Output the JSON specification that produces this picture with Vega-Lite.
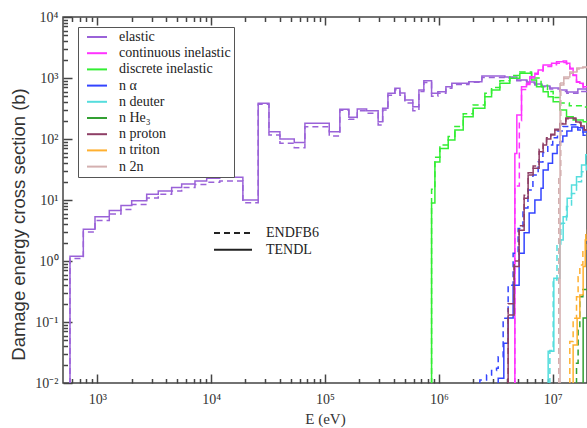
{
"$schema": "https://vega.github.io/schema/vega-lite/v6.json",
"width": 524, "height": 366,
"autosize": {"type": "none"},
"padding": {"left": 63, "top": 17, "right": 0, "bottom": 45},
"background": "white",
"config": {"view": {"stroke": "#444", "strokeWidth": 1.5}, "font": "Liberation Serif, Times New Roman, serif"},
"datasets": {
"curves": [
{"r":"elastic","lib":"TENDL","i":0,"E":576,"s":0.001},{"r":"elastic","lib":"TENDL","i":1,"E":576,"s":1.2},{"r":"elastic","lib":"TENDL","i":2,"E":754,"s":3.3},{"r":"elastic","lib":"TENDL","i":3,"E":955,"s":5.3},{"r":"elastic","lib":"TENDL","i":4,"E":1275,"s":6.7},{"r":"elastic","lib":"TENDL","i":5,"E":1615,"s":8.1},{"r":"elastic","lib":"TENDL","i":6,"E":2005,"s":9.7},{"r":"elastic","lib":"TENDL","i":7,"E":2716,"s":12.4},{"r":"elastic","lib":"TENDL","i":8,"E":3434,"s":14.1},{"r":"elastic","lib":"TENDL","i":9,"E":4500,"s":16.1},{"r":"elastic","lib":"TENDL","i":10,"E":5510,"s":18.3},{"r":"elastic","lib":"TENDL","i":11,"E":7210,"s":20.5},{"r":"elastic","lib":"TENDL","i":12,"E":9140,"s":22.7},{"r":"elastic","lib":"TENDL","i":13,"E":11900,"s":23.5},{"r":"elastic","lib":"TENDL","i":14,"E":19000,"s":10},{"r":"elastic","lib":"TENDL","i":15,"E":25900,"s":385},{"r":"elastic","lib":"TENDL","i":16,"E":32200,"s":132},{"r":"elastic","lib":"TENDL","i":17,"E":40200,"s":100},{"r":"elastic","lib":"TENDL","i":18,"E":53700,"s":88},{"r":"elastic","lib":"TENDL","i":19,"E":66600,"s":181},{"r":"elastic","lib":"TENDL","i":20,"E":109000,"s":132},{"r":"elastic","lib":"TENDL","i":21,"E":135000,"s":307},{"r":"elastic","lib":"TENDL","i":22,"E":162000,"s":227},{"r":"elastic","lib":"TENDL","i":23,"E":192000,"s":310},{"r":"elastic","lib":"TENDL","i":24,"E":232000,"s":291},{"r":"elastic","lib":"TENDL","i":25,"E":293000,"s":192},{"r":"elastic","lib":"TENDL","i":26,"E":321000,"s":319},{"r":"elastic","lib":"TENDL","i":27,"E":357000,"s":561},{"r":"elastic","lib":"TENDL","i":28,"E":411000,"s":678},{"r":"elastic","lib":"TENDL","i":29,"E":455000,"s":568},{"r":"elastic","lib":"TENDL","i":30,"E":503000,"s":436},{"r":"elastic","lib":"TENDL","i":31,"E":591000,"s":339},{"r":"elastic","lib":"TENDL","i":32,"E":668000,"s":636},{"r":"elastic","lib":"TENDL","i":33,"E":738000,"s":903},{"r":"elastic","lib":"TENDL","i":34,"E":863000,"s":561},{"r":"elastic","lib":"TENDL","i":35,"E":980000,"s":596},{"r":"elastic","lib":"TENDL","i":36,"E":1153000,"s":720},{"r":"elastic","lib":"TENDL","i":37,"E":1300000,"s":819},{"r":"elastic","lib":"TENDL","i":38,"E":1835000,"s":869},{"r":"elastic","lib":"TENDL","i":39,"E":2388000,"s":1079},{"r":"elastic","lib":"TENDL","i":40,"E":3800000,"s":1038},{"r":"elastic","lib":"TENDL","i":41,"E":4840000,"s":927},{"r":"elastic","lib":"TENDL","i":42,"E":5930000,"s":859},{"r":"elastic","lib":"TENDL","i":43,"E":6970000,"s":797},{"r":"elastic","lib":"TENDL","i":44,"E":8020000,"s":739},{"r":"elastic","lib":"TENDL","i":45,"E":9440000,"s":686},{"r":"elastic","lib":"TENDL","i":46,"E":11560000,"s":636},{"r":"elastic","lib":"TENDL","i":47,"E":13310000,"s":589},{"r":"elastic","lib":"TENDL","i":48,"E":16620000,"s":660},{"r":"elastic","lib":"TENDL","i":49,"E":21000000,"s":660},
{"r":"elastic","lib":"ENDFB6","i":0,"E":576,"s":0.001},{"r":"elastic","lib":"ENDFB6","i":1,"E":576,"s":1.1},{"r":"elastic","lib":"ENDFB6","i":2,"E":754,"s":3.0},{"r":"elastic","lib":"ENDFB6","i":3,"E":955,"s":4.6},{"r":"elastic","lib":"ENDFB6","i":4,"E":1275,"s":5.9},{"r":"elastic","lib":"ENDFB6","i":5,"E":1615,"s":7.0},{"r":"elastic","lib":"ENDFB6","i":6,"E":2005,"s":8.4},{"r":"elastic","lib":"ENDFB6","i":7,"E":2716,"s":10.8},{"r":"elastic","lib":"ENDFB6","i":8,"E":3434,"s":12.4},{"r":"elastic","lib":"ENDFB6","i":9,"E":4500,"s":14.0},{"r":"elastic","lib":"ENDFB6","i":10,"E":5510,"s":16.0},{"r":"elastic","lib":"ENDFB6","i":11,"E":7210,"s":18.0},{"r":"elastic","lib":"ENDFB6","i":12,"E":9140,"s":19.5},{"r":"elastic","lib":"ENDFB6","i":13,"E":11900,"s":20.5},{"r":"elastic","lib":"ENDFB6","i":14,"E":19000,"s":9},{"r":"elastic","lib":"ENDFB6","i":15,"E":25900,"s":370},{"r":"elastic","lib":"ENDFB6","i":16,"E":32200,"s":116},{"r":"elastic","lib":"ENDFB6","i":17,"E":40200,"s":85},{"r":"elastic","lib":"ENDFB6","i":18,"E":53700,"s":72},{"r":"elastic","lib":"ENDFB6","i":19,"E":66600,"s":159},{"r":"elastic","lib":"ENDFB6","i":20,"E":109000,"s":112},{"r":"elastic","lib":"ENDFB6","i":21,"E":135000,"s":295},{"r":"elastic","lib":"ENDFB6","i":22,"E":162000,"s":210},{"r":"elastic","lib":"ENDFB6","i":23,"E":192000,"s":290},{"r":"elastic","lib":"ENDFB6","i":24,"E":232000,"s":265},{"r":"elastic","lib":"ENDFB6","i":25,"E":293000,"s":170},{"r":"elastic","lib":"ENDFB6","i":26,"E":321000,"s":300},{"r":"elastic","lib":"ENDFB6","i":27,"E":357000,"s":520},{"r":"elastic","lib":"ENDFB6","i":28,"E":411000,"s":640},{"r":"elastic","lib":"ENDFB6","i":29,"E":455000,"s":520},{"r":"elastic","lib":"ENDFB6","i":30,"E":503000,"s":390},{"r":"elastic","lib":"ENDFB6","i":31,"E":591000,"s":290},{"r":"elastic","lib":"ENDFB6","i":32,"E":668000,"s":600},{"r":"elastic","lib":"ENDFB6","i":33,"E":738000,"s":840},{"r":"elastic","lib":"ENDFB6","i":34,"E":863000,"s":500},{"r":"elastic","lib":"ENDFB6","i":35,"E":980000,"s":560},{"r":"elastic","lib":"ENDFB6","i":36,"E":1153000,"s":680},{"r":"elastic","lib":"ENDFB6","i":37,"E":1300000,"s":780},{"r":"elastic","lib":"ENDFB6","i":38,"E":1835000,"s":850},{"r":"elastic","lib":"ENDFB6","i":39,"E":2388000,"s":1020},{"r":"elastic","lib":"ENDFB6","i":40,"E":3800000,"s":1000},{"r":"elastic","lib":"ENDFB6","i":41,"E":4840000,"s":900},{"r":"elastic","lib":"ENDFB6","i":42,"E":5930000,"s":830},{"r":"elastic","lib":"ENDFB6","i":43,"E":6970000,"s":770},{"r":"elastic","lib":"ENDFB6","i":44,"E":8020000,"s":720},{"r":"elastic","lib":"ENDFB6","i":45,"E":9440000,"s":660},{"r":"elastic","lib":"ENDFB6","i":46,"E":11560000,"s":600},{"r":"elastic","lib":"ENDFB6","i":47,"E":13310000,"s":560},{"r":"elastic","lib":"ENDFB6","i":48,"E":16620000,"s":600},{"r":"elastic","lib":"ENDFB6","i":49,"E":21000000,"s":600},
{"r":"discrete inelastic","lib":"TENDL","i":0,"E":863000,"s":0.001},{"r":"discrete inelastic","lib":"TENDL","i":1,"E":863000,"s":8.9},{"r":"discrete inelastic","lib":"TENDL","i":2,"E":923000,"s":42},{"r":"discrete inelastic","lib":"TENDL","i":3,"E":1021000,"s":70},{"r":"discrete inelastic","lib":"TENDL","i":4,"E":1208000,"s":96},{"r":"discrete inelastic","lib":"TENDL","i":5,"E":1383000,"s":141},{"r":"discrete inelastic","lib":"TENDL","i":6,"E":1636000,"s":232},{"r":"discrete inelastic","lib":"TENDL","i":7,"E":2000000,"s":319},{"r":"discrete inelastic","lib":"TENDL","i":8,"E":2535000,"s":494},{"r":"discrete inelastic","lib":"TENDL","i":9,"E":2904000,"s":636},{"r":"discrete inelastic","lib":"TENDL","i":10,"E":3434000,"s":819},{"r":"discrete inelastic","lib":"TENDL","i":11,"E":4200000,"s":988},{"r":"discrete inelastic","lib":"TENDL","i":12,"E":5140000,"s":1194},{"r":"discrete inelastic","lib":"TENDL","i":13,"E":6520000,"s":927},{"r":"discrete inelastic","lib":"TENDL","i":14,"E":7210000,"s":720},{"r":"discrete inelastic","lib":"TENDL","i":15,"E":8240000,"s":596},{"r":"discrete inelastic","lib":"TENDL","i":16,"E":9120000,"s":494},{"r":"discrete inelastic","lib":"TENDL","i":17,"E":10090000,"s":408},{"r":"discrete inelastic","lib":"TENDL","i":18,"E":11560000,"s":299},{"r":"discrete inelastic","lib":"TENDL","i":19,"E":13220000,"s":232},{"r":"discrete inelastic","lib":"TENDL","i":20,"E":15110000,"s":205},{"r":"discrete inelastic","lib":"TENDL","i":21,"E":18500000,"s":192},{"r":"discrete inelastic","lib":"TENDL","i":22,"E":21000000,"s":192},
{"r":"discrete inelastic","lib":"ENDFB6","i":0,"E":863000,"s":0.001},{"r":"discrete inelastic","lib":"ENDFB6","i":1,"E":863000,"s":15},{"r":"discrete inelastic","lib":"ENDFB6","i":2,"E":923000,"s":50},{"r":"discrete inelastic","lib":"ENDFB6","i":3,"E":1021000,"s":80},{"r":"discrete inelastic","lib":"ENDFB6","i":4,"E":1208000,"s":110},{"r":"discrete inelastic","lib":"ENDFB6","i":5,"E":1383000,"s":160},{"r":"discrete inelastic","lib":"ENDFB6","i":6,"E":1636000,"s":260},{"r":"discrete inelastic","lib":"ENDFB6","i":7,"E":2000000,"s":360},{"r":"discrete inelastic","lib":"ENDFB6","i":8,"E":2535000,"s":560},{"r":"discrete inelastic","lib":"ENDFB6","i":9,"E":2904000,"s":700},{"r":"discrete inelastic","lib":"ENDFB6","i":10,"E":3434000,"s":900},{"r":"discrete inelastic","lib":"ENDFB6","i":11,"E":4200000,"s":1100},{"r":"discrete inelastic","lib":"ENDFB6","i":12,"E":5140000,"s":1250},{"r":"discrete inelastic","lib":"ENDFB6","i":13,"E":6520000,"s":1000},{"r":"discrete inelastic","lib":"ENDFB6","i":14,"E":7900000,"s":760},{"r":"discrete inelastic","lib":"ENDFB6","i":15,"E":9000000,"s":600},{"r":"discrete inelastic","lib":"ENDFB6","i":16,"E":10090000,"s":480},{"r":"discrete inelastic","lib":"ENDFB6","i":17,"E":11560000,"s":390},{"r":"discrete inelastic","lib":"ENDFB6","i":18,"E":14000000,"s":350},{"r":"discrete inelastic","lib":"ENDFB6","i":19,"E":18500000,"s":335},{"r":"discrete inelastic","lib":"ENDFB6","i":20,"E":21000000,"s":335},
{"r":"continuous inelastic","lib":"TENDL","i":0,"E":4650000,"s":0.001},{"r":"continuous inelastic","lib":"TENDL","i":1,"E":4650000,"s":58},{"r":"continuous inelastic","lib":"TENDL","i":2,"E":4840000,"s":247},{"r":"continuous inelastic","lib":"TENDL","i":3,"E":5320000,"s":720},{"r":"continuous inelastic","lib":"TENDL","i":4,"E":5890000,"s":819},{"r":"continuous inelastic","lib":"TENDL","i":5,"E":6300000,"s":1050},{"r":"continuous inelastic","lib":"TENDL","i":6,"E":6970000,"s":1194},{"r":"continuous inelastic","lib":"TENDL","i":7,"E":7450000,"s":1352},{"r":"continuous inelastic","lib":"TENDL","i":8,"E":8240000,"s":1634},{"r":"continuous inelastic","lib":"TENDL","i":9,"E":9770000,"s":1742},{"r":"continuous inelastic","lib":"TENDL","i":10,"E":10800000,"s":1850},{"r":"continuous inelastic","lib":"TENDL","i":11,"E":12350000,"s":1900},{"r":"continuous inelastic","lib":"TENDL","i":12,"E":13220000,"s":1742},{"r":"continuous inelastic","lib":"TENDL","i":13,"E":14130000,"s":1442},{"r":"continuous inelastic","lib":"TENDL","i":14,"E":15110000,"s":1120},{"r":"continuous inelastic","lib":"TENDL","i":15,"E":16180000,"s":869},{"r":"continuous inelastic","lib":"TENDL","i":16,"E":17300000,"s":819},{"r":"continuous inelastic","lib":"TENDL","i":17,"E":18500000,"s":720},{"r":"continuous inelastic","lib":"TENDL","i":18,"E":21000000,"s":720},
{"r":"continuous inelastic","lib":"ENDFB6","i":0,"E":4650000,"s":0.001},{"r":"continuous inelastic","lib":"ENDFB6","i":1,"E":4650000,"s":17},{"r":"continuous inelastic","lib":"ENDFB6","i":2,"E":5090000,"s":200},{"r":"continuous inelastic","lib":"ENDFB6","i":3,"E":5320000,"s":650},{"r":"continuous inelastic","lib":"ENDFB6","i":4,"E":5890000,"s":780},{"r":"continuous inelastic","lib":"ENDFB6","i":5,"E":6300000,"s":1000},{"r":"continuous inelastic","lib":"ENDFB6","i":6,"E":6970000,"s":1150},{"r":"continuous inelastic","lib":"ENDFB6","i":7,"E":7450000,"s":1300},{"r":"continuous inelastic","lib":"ENDFB6","i":8,"E":8240000,"s":1550},{"r":"continuous inelastic","lib":"ENDFB6","i":9,"E":9770000,"s":1650},{"r":"continuous inelastic","lib":"ENDFB6","i":10,"E":10800000,"s":1750},{"r":"continuous inelastic","lib":"ENDFB6","i":11,"E":12350000,"s":1800},{"r":"continuous inelastic","lib":"ENDFB6","i":12,"E":13220000,"s":1700},{"r":"continuous inelastic","lib":"ENDFB6","i":13,"E":14130000,"s":1400},{"r":"continuous inelastic","lib":"ENDFB6","i":14,"E":15110000,"s":1100},{"r":"continuous inelastic","lib":"ENDFB6","i":15,"E":16180000,"s":850},{"r":"continuous inelastic","lib":"ENDFB6","i":16,"E":17300000,"s":800},{"r":"continuous inelastic","lib":"ENDFB6","i":17,"E":18500000,"s":700},{"r":"continuous inelastic","lib":"ENDFB6","i":18,"E":21000000,"s":700},
{"r":"n α","lib":"TENDL","i":0,"E":3320000,"s":0.001},{"r":"n α","lib":"TENDL","i":1,"E":3320000,"s":0.012},{"r":"n α","lib":"TENDL","i":2,"E":3720000,"s":0.045},{"r":"n α","lib":"TENDL","i":3,"E":4060000,"s":0.116},{"r":"n α","lib":"TENDL","i":4,"E":4490000,"s":0.40},{"r":"n α","lib":"TENDL","i":5,"E":5070000,"s":1.34},{"r":"n α","lib":"TENDL","i":6,"E":5610000,"s":2.9},{"r":"n α","lib":"TENDL","i":7,"E":6210000,"s":6.1},{"r":"n α","lib":"TENDL","i":8,"E":6970000,"s":10},{"r":"n α","lib":"TENDL","i":9,"E":7890000,"s":15.6},{"r":"n α","lib":"TENDL","i":10,"E":8240000,"s":31},{"r":"n α","lib":"TENDL","i":11,"E":9120000,"s":40},{"r":"n α","lib":"TENDL","i":12,"E":9960000,"s":58},{"r":"n α","lib":"TENDL","i":13,"E":10930000,"s":80},{"r":"n α","lib":"TENDL","i":14,"E":11560000,"s":90},{"r":"n α","lib":"TENDL","i":15,"E":12270000,"s":112},{"r":"n α","lib":"TENDL","i":16,"E":13310000,"s":135},{"r":"n α","lib":"TENDL","i":17,"E":14720000,"s":157},{"r":"n α","lib":"TENDL","i":18,"E":16620000,"s":153},{"r":"n α","lib":"TENDL","i":19,"E":18400000,"s":130},{"r":"n α","lib":"TENDL","i":20,"E":21000000,"s":130},
{"r":"n α","lib":"ENDFB6","i":0,"E":2291000,"s":0.001},{"r":"n α","lib":"ENDFB6","i":1,"E":2291000,"s":0.0112},{"r":"n α","lib":"ENDFB6","i":2,"E":2624000,"s":0.0135},{"r":"n α","lib":"ENDFB6","i":3,"E":2904000,"s":0.016},{"r":"n α","lib":"ENDFB6","i":4,"E":3210000,"s":0.0174},{"r":"n α","lib":"ENDFB6","i":5,"E":3320000,"s":0.027},{"r":"n α","lib":"ENDFB6","i":6,"E":3670000,"s":0.115},{"r":"n α","lib":"ENDFB6","i":7,"E":4060000,"s":0.40},{"r":"n α","lib":"ENDFB6","i":8,"E":4490000,"s":1.34},{"r":"n α","lib":"ENDFB6","i":9,"E":4970000,"s":3.4},{"r":"n α","lib":"ENDFB6","i":10,"E":5480000,"s":7.4},{"r":"n α","lib":"ENDFB6","i":11,"E":6060000,"s":14.6},{"r":"n α","lib":"ENDFB6","i":12,"E":6700000,"s":25.7},{"r":"n α","lib":"ENDFB6","i":13,"E":7450000,"s":42},{"r":"n α","lib":"ENDFB6","i":14,"E":8200000,"s":60},{"r":"n α","lib":"ENDFB6","i":15,"E":9050000,"s":80},{"r":"n α","lib":"ENDFB6","i":16,"E":10000000,"s":105},{"r":"n α","lib":"ENDFB6","i":17,"E":11000000,"s":135},{"r":"n α","lib":"ENDFB6","i":18,"E":12300000,"s":160},{"r":"n α","lib":"ENDFB6","i":19,"E":14000000,"s":172},{"r":"n α","lib":"ENDFB6","i":20,"E":16600000,"s":140},{"r":"n α","lib":"ENDFB6","i":21,"E":18500000,"s":115},{"r":"n α","lib":"ENDFB6","i":22,"E":21000000,"s":115},
{"r":"n deuter","lib":"TENDL","i":0,"E":9120000,"s":0.001},{"r":"n deuter","lib":"TENDL","i":1,"E":9120000,"s":0.033},{"r":"n deuter","lib":"TENDL","i":2,"E":10230000,"s":0.52},{"r":"n deuter","lib":"TENDL","i":3,"E":11560000,"s":2.2},{"r":"n deuter","lib":"TENDL","i":4,"E":12350000,"s":5.3},{"r":"n deuter","lib":"TENDL","i":5,"E":13390000,"s":10.7},{"r":"n deuter","lib":"TENDL","i":6,"E":14630000,"s":17.6},{"r":"n deuter","lib":"TENDL","i":7,"E":16180000,"s":24},{"r":"n deuter","lib":"TENDL","i":8,"E":17910000,"s":37.5},{"r":"n deuter","lib":"TENDL","i":9,"E":19500000,"s":55},{"r":"n deuter","lib":"TENDL","i":10,"E":21000000,"s":55},
{"r":"n deuter","lib":"ENDFB6","i":0,"E":9440000,"s":0.001},{"r":"n deuter","lib":"ENDFB6","i":1,"E":9440000,"s":0.034},{"r":"n deuter","lib":"ENDFB6","i":2,"E":10090000,"s":0.49},{"r":"n deuter","lib":"ENDFB6","i":3,"E":10900000,"s":1.9},{"r":"n deuter","lib":"ENDFB6","i":4,"E":11780000,"s":4.15},{"r":"n deuter","lib":"ENDFB6","i":5,"E":13220000,"s":7.8},{"r":"n deuter","lib":"ENDFB6","i":6,"E":14630000,"s":12.8},{"r":"n deuter","lib":"ENDFB6","i":7,"E":16180000,"s":20},{"r":"n deuter","lib":"ENDFB6","i":8,"E":17910000,"s":29},{"r":"n deuter","lib":"ENDFB6","i":9,"E":19700000,"s":42},{"r":"n deuter","lib":"ENDFB6","i":10,"E":21000000,"s":42},
{"r":"n He₃","lib":"TENDL","i":0,"E":18500000,"s":0.001},{"r":"n He₃","lib":"TENDL","i":1,"E":18500000,"s":0.116},{"r":"n He₃","lib":"TENDL","i":2,"E":21000000,"s":0.116},
{"r":"n He₃","lib":"ENDFB6","i":0,"E":16180000,"s":0.001},{"r":"n He₃","lib":"ENDFB6","i":1,"E":16180000,"s":0.021},{"r":"n He₃","lib":"ENDFB6","i":2,"E":16710000,"s":0.074},{"r":"n He₃","lib":"ENDFB6","i":3,"E":17300000,"s":0.26},{"r":"n He₃","lib":"ENDFB6","i":4,"E":18400000,"s":0.34},{"r":"n He₃","lib":"ENDFB6","i":5,"E":21000000,"s":0.34},
{"r":"n proton","lib":"TENDL","i":0,"E":4060000,"s":0.001},{"r":"n proton","lib":"TENDL","i":1,"E":4060000,"s":0.13},{"r":"n proton","lib":"TENDL","i":2,"E":4580000,"s":0.81},{"r":"n proton","lib":"TENDL","i":3,"E":5070000,"s":3.2},{"r":"n proton","lib":"TENDL","i":4,"E":5610000,"s":10.7},{"r":"n proton","lib":"TENDL","i":5,"E":6080000,"s":25.7},{"r":"n proton","lib":"TENDL","i":6,"E":6730000,"s":33},{"r":"n proton","lib":"TENDL","i":7,"E":7600000,"s":62},{"r":"n proton","lib":"TENDL","i":8,"E":8240000,"s":80},{"r":"n proton","lib":"TENDL","i":9,"E":8830000,"s":100},{"r":"n proton","lib":"TENDL","i":10,"E":9620000,"s":116},{"r":"n proton","lib":"TENDL","i":11,"E":10440000,"s":141},{"r":"n proton","lib":"TENDL","i":12,"E":11560000,"s":176},{"r":"n proton","lib":"TENDL","i":13,"E":13040000,"s":221},{"r":"n proton","lib":"TENDL","i":14,"E":15960000,"s":190},{"r":"n proton","lib":"TENDL","i":15,"E":17660000,"s":163},{"r":"n proton","lib":"TENDL","i":16,"E":18900000,"s":141},{"r":"n proton","lib":"TENDL","i":17,"E":21000000,"s":141},
{"r":"n proton","lib":"ENDFB6","i":0,"E":4060000,"s":0.001},{"r":"n proton","lib":"ENDFB6","i":1,"E":4060000,"s":0.2},{"r":"n proton","lib":"ENDFB6","i":2,"E":4580000,"s":1.0},{"r":"n proton","lib":"ENDFB6","i":3,"E":5070000,"s":3.8},{"r":"n proton","lib":"ENDFB6","i":4,"E":5610000,"s":12},{"r":"n proton","lib":"ENDFB6","i":5,"E":6080000,"s":28},{"r":"n proton","lib":"ENDFB6","i":6,"E":6730000,"s":36},{"r":"n proton","lib":"ENDFB6","i":7,"E":7600000,"s":68},{"r":"n proton","lib":"ENDFB6","i":8,"E":8240000,"s":85},{"r":"n proton","lib":"ENDFB6","i":9,"E":8830000,"s":105},{"r":"n proton","lib":"ENDFB6","i":10,"E":9620000,"s":120},{"r":"n proton","lib":"ENDFB6","i":11,"E":10440000,"s":145},{"r":"n proton","lib":"ENDFB6","i":12,"E":11560000,"s":180},{"r":"n proton","lib":"ENDFB6","i":13,"E":13040000,"s":215},{"r":"n proton","lib":"ENDFB6","i":14,"E":15960000,"s":185},{"r":"n proton","lib":"ENDFB6","i":15,"E":17660000,"s":160},{"r":"n proton","lib":"ENDFB6","i":16,"E":18900000,"s":140},{"r":"n proton","lib":"ENDFB6","i":17,"E":21000000,"s":140},
{"r":"n triton","lib":"TENDL","i":0,"E":15110000,"s":0.001},{"r":"n triton","lib":"TENDL","i":1,"E":15110000,"s":0.042},{"r":"n triton","lib":"TENDL","i":2,"E":16380000,"s":0.115},{"r":"n triton","lib":"TENDL","i":3,"E":17300000,"s":0.277},{"r":"n triton","lib":"TENDL","i":4,"E":18500000,"s":0.81},{"r":"n triton","lib":"TENDL","i":5,"E":19300000,"s":2.2},{"r":"n triton","lib":"TENDL","i":6,"E":20200000,"s":3.2},{"r":"n triton","lib":"TENDL","i":7,"E":21000000,"s":3.2},
{"r":"n triton","lib":"ENDFB6","i":0,"E":14130000,"s":0.001},{"r":"n triton","lib":"ENDFB6","i":1,"E":14130000,"s":0.048},{"r":"n triton","lib":"ENDFB6","i":2,"E":15110000,"s":0.115},{"r":"n triton","lib":"ENDFB6","i":3,"E":16180000,"s":0.26},{"r":"n triton","lib":"ENDFB6","i":4,"E":16710000,"s":0.55},{"r":"n triton","lib":"ENDFB6","i":5,"E":17300000,"s":0.86},{"r":"n triton","lib":"ENDFB6","i":6,"E":18400000,"s":1.5},{"r":"n triton","lib":"ENDFB6","i":7,"E":19500000,"s":2.7},{"r":"n triton","lib":"ENDFB6","i":8,"E":21000000,"s":2.7},
{"r":"n 2n","lib":"TENDL","i":0,"E":11600000,"s":0.001},{"r":"n 2n","lib":"TENDL","i":1,"E":11600000,"s":828},{"r":"n 2n","lib":"TENDL","i":2,"E":12520000,"s":1038},{"r":"n 2n","lib":"TENDL","i":3,"E":14130000,"s":1253},{"r":"n 2n","lib":"TENDL","i":4,"E":16290000,"s":1459},{"r":"n 2n","lib":"TENDL","i":5,"E":18400000,"s":1514},{"r":"n 2n","lib":"TENDL","i":6,"E":21000000,"s":1514},
{"r":"n 2n","lib":"ENDFB6","i":0,"E":11300000,"s":0.001},{"r":"n 2n","lib":"ENDFB6","i":1,"E":11300000,"s":23},{"r":"n 2n","lib":"ENDFB6","i":2,"E":11780000,"s":770},{"r":"n 2n","lib":"ENDFB6","i":3,"E":12520000,"s":980},{"r":"n 2n","lib":"ENDFB6","i":4,"E":14130000,"s":1200},{"r":"n 2n","lib":"ENDFB6","i":5,"E":16290000,"s":1400},{"r":"n 2n","lib":"ENDFB6","i":6,"E":18400000,"s":1480},{"r":"n 2n","lib":"ENDFB6","i":7,"E":21000000,"s":1480}
],
"anchor": [{"E": 1000, "s": 1}]
},
"layer": [
{
"data": {"name": "curves"},
"mark": {"type": "line", "interpolate": "step-after", "clip": true, "strokeWidth": 1.5},
"encoding": {
"x": {"field": "E", "type": "quantitative", "scale": {"type": "log", "domain": [500, 20000000], "nice": false},
 "axis": {"orient": "bottom", "values": [1000, 10000, 100000, 1000000, 10000000],
  "labelExpr": "'10' + ['⁰','¹','²','³','⁴','⁵','⁶','⁷'][round(log(datum.value)/LN10)]",
  "domain": false, "grid": false, "tickSize": -9, "tickColor": "#444", "tickWidth": 1.5,
  "labelPadding": 18, "labelFont": "Liberation Serif, Times New Roman, serif", "labelFontSize": 14, "labelColor": "#333", "labelFlush": false,
  "title": "E (eV)", "titleFont": "Liberation Serif, Times New Roman, serif", "titleFontSize": 15, "titleFontWeight": "normal", "titleColor": "#333", "titleY": 35, "titleBaseline": "middle"}},
"y": {"field": "s", "type": "quantitative", "scale": {"type": "log", "domain": [0.01, 10000], "nice": false},
 "axis": {"orient": "left", "values": [0.01, 0.1, 1, 10, 100, 1000, 10000],
  "labelExpr": "'10' + ['⁻²','⁻¹','⁰','¹','²','³','⁴'][round(log(datum.value)/LN10)+2]",
  "domain": false, "grid": false, "tickSize": -9, "tickColor": "#444", "tickWidth": 1.5,
  "labelPadding": 14, "labelFont": "Liberation Serif, Times New Roman, serif", "labelFontSize": 14, "labelColor": "#333", "labelFlush": false,
  "title": "Damage energy cross section (b)", "titleFont": "Liberation Sans, Arial, sans-serif", "titleFontSize": 18.5, "titleFontWeight": "normal", "titleColor": "#333",
  "titleX": -45, "titleY": 207, "titleAngle": -90, "titleBaseline": "middle", "titleAlign": "center"}},
"color": {"field": "r", "type": "nominal",
 "scale": {"domain": ["elastic", "continuous inelastic", "discrete inelastic", "n α", "n deuter", "n He₃", "n proton", "n triton", "n 2n"],
  "range": ["#9a62d8", "#ff33ff", "#33ee33", "#3344ff", "#55dddd", "#33a033", "#8e3f66", "#ffb030", "#d4b0b0"]},
 "legend": {"orient": "none", "legendX": 15, "legendY": 10, "title": null, "symbolType": "M-2,0H2", "symbolSize": 100, "symbolStrokeWidth": 2,
  "labelFont": "Liberation Serif, Times New Roman, serif", "labelFontSize": 14, "labelColor": "#222", "strokeColor": "#555", "fillColor": "white",
  "padding": 3, "rowPadding": 2.2, "labelOffset": 15, "symbolOffset": 9}},
"strokeDash": {"field": "lib", "type": "nominal",
 "scale": {"domain": ["ENDFB6", "TENDL"], "range": [[6, 4], [1, 0]]},
 "legend": {"orient": "none", "legendX": 149, "legendY": 209, "title": null, "symbolType": "M-4,0H4", "symbolSize": 90.25,
  "symbolStrokeColor": "#222", "symbolStrokeWidth": 2, "labelFont": "Liberation Serif, Times New Roman, serif", "labelFontSize": 14, "labelColor": "#222",
  "padding": 0, "rowPadding": 2.8, "labelOffset": 26, "symbolOffset": 14}},
"order": {"field": "i", "type": "quantitative"}
}
},
{
"data": {"name": "anchor"},
"mark": {"type": "point", "opacity": 0},
"encoding": {
"x": {"field": "E", "type": "quantitative", "scale": {"type": "log", "domain": [500, 20000000], "nice": false},
 "axis": {"orient": "bottom", "values": [600,700,800,900,2000,3000,4000,5000,6000,7000,8000,9000,20000,30000,40000,50000,60000,70000,80000,90000,200000,300000,400000,500000,600000,700000,800000,900000,2000000,3000000,4000000,5000000,6000000,7000000,8000000,9000000],
  "labels": false, "domain": false, "grid": false, "tickSize": -4.5, "tickColor": "#444", "tickWidth": 1.5, "title": null}},
"y": {"field": "s", "type": "quantitative", "scale": {"type": "log", "domain": [0.01, 10000], "nice": false},
 "axis": {"orient": "left", "values": [0.02,0.03,0.04,0.05,0.06,0.07,0.08,0.09,0.2,0.3,0.4,0.5,0.6,0.7,0.8,0.9,2,3,4,5,6,7,8,9,20,30,40,50,60,70,80,90,200,300,400,500,600,700,800,900,2000,3000,4000,5000,6000,7000,8000,9000],
  "labels": false, "domain": false, "grid": false, "tickSize": -4.5, "tickColor": "#444", "tickWidth": 1.5, "title": null}}
}
},
{
"data": {"name": "anchor"},
"mark": {"type": "point", "opacity": 0},
"encoding": {
"x": {"field": "E", "type": "quantitative", "scale": {"type": "log", "domain": [500, 20000000], "nice": false},
 "axis": {"orient": "top", "values": [1000, 10000, 100000, 1000000, 10000000],
  "labels": false, "domain": false, "grid": false, "tickSize": -8, "tickColor": "#444", "tickWidth": 1.5, "title": null}},
"y": {"field": "s", "type": "quantitative", "scale": {"type": "log", "domain": [0.01, 10000], "nice": false}, "axis": null}
}
},
{
"data": {"name": "anchor"},
"mark": {"type": "point", "opacity": 0},
"encoding": {
"x": {"field": "E", "type": "quantitative", "scale": {"type": "log", "domain": [500, 20000000], "nice": false},
 "axis": {"orient": "top", "values": [600,700,800,900,2000,3000,4000,5000,6000,7000,8000,9000,20000,30000,40000,50000,60000,70000,80000,90000,200000,300000,400000,500000,600000,700000,800000,900000,2000000,3000000,4000000,5000000,6000000,7000000,8000000,9000000],
  "labels": false, "domain": false, "grid": false, "tickSize": -4.5, "tickColor": "#444", "tickWidth": 1.5, "title": null}},
"y": {"field": "s", "type": "quantitative", "scale": {"type": "log", "domain": [0.01, 10000], "nice": false}, "axis": null}
}
}
],
"resolve": {"axis": {"x": "independent", "y": "independent"}}
}
